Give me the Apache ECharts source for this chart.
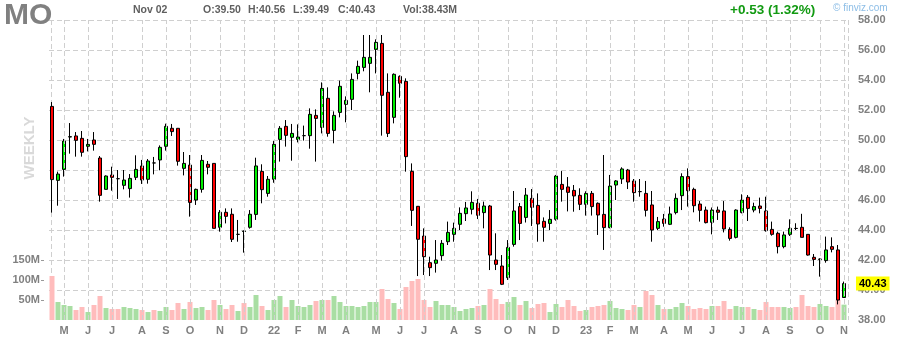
<!DOCTYPE html>
<html>
<head>
<meta charset="utf-8">
<script src="https://cdn.jsdelivr.net/npm/echarts@6/dist/echarts.min.js"></script>
<style>
html,body{margin:0;padding:0;background:#fff;}
#chart{width:898px;height:340px;}
</style>
</head>
<body>
<div id="chart"></div>
<script>
// Weekly bars (week start dates)
const dates = [
'2021-04-19','2021-04-26','2021-05-03','2021-05-10','2021-05-17','2021-05-24','2021-05-31','2021-06-07','2021-06-14','2021-06-21','2021-06-28','2021-07-05','2021-07-12','2021-07-19','2021-07-26','2021-08-02','2021-08-09','2021-08-16','2021-08-23','2021-08-30','2021-09-06','2021-09-13','2021-09-20','2021-09-27','2021-10-04','2021-10-11','2021-10-18','2021-10-25','2021-11-01','2021-11-08','2021-11-15','2021-11-22','2021-11-29','2021-12-06','2021-12-13','2021-12-20','2021-12-27',
'2022-01-03','2022-01-10','2022-01-17','2022-01-24','2022-01-31','2022-02-07','2022-02-14','2022-02-21','2022-02-28','2022-03-07','2022-03-14','2022-03-21','2022-03-28','2022-04-04','2022-04-11','2022-04-18','2022-04-25','2022-05-02','2022-05-09','2022-05-16','2022-05-23','2022-05-30','2022-06-06','2022-06-13','2022-06-20','2022-06-27','2022-07-04','2022-07-11','2022-07-18','2022-07-25','2022-08-01','2022-08-08','2022-08-15','2022-08-22','2022-08-29','2022-09-05','2022-09-12','2022-09-19','2022-09-26','2022-10-03','2022-10-10','2022-10-17','2022-10-24','2022-10-31','2022-11-07','2022-11-14','2022-11-21','2022-11-28','2022-12-05','2022-12-12','2022-12-19','2022-12-26',
'2023-01-02','2023-01-09','2023-01-16','2023-01-23','2023-01-30','2023-02-06','2023-02-13','2023-02-20','2023-02-27','2023-03-06','2023-03-13','2023-03-20','2023-03-27','2023-04-03','2023-04-10','2023-04-17','2023-04-24','2023-05-01','2023-05-08','2023-05-15','2023-05-22','2023-05-29','2023-06-05','2023-06-12','2023-06-19','2023-06-26','2023-07-03','2023-07-10','2023-07-17','2023-07-24','2023-07-31','2023-08-07','2023-08-14','2023-08-21','2023-08-28','2023-09-04','2023-09-11','2023-09-18','2023-09-25','2023-10-02','2023-10-09','2023-10-16','2023-10-23','2023-10-30'
];

const opens = [
52.24,47.31,48.04,50.20,50.27,50.11,49.58,50.00,48.80,46.71,47.67,47.42,46.98,46.76,47.51,48.27,47.38,48.47,48.67,49.58,
50.78,50.78,48.11,48.33,46.00,46.71,48.38,48.44,44.18,45.18,45.05,43.71,43.90,44.18,45.04,47.91,46.44,47.38,50.04,50.91,
50.18,50.04,50.29,50.29,51.64,50.84,52.78,50.64,51.84,52.38,52.71,54.44,54.84,55.11,56.04,56.44,53.18,51.51,54.24,53.91,
47.91,45.58,43.60,41.82,41.78,42.29,43.22,43.71,44.38,45.09,45.38,45.78,45.16,45.60,42.00,41.60,40.82,43.04,45.56,44.84,
46.11,45.64,44.58,44.44,44.71,47.04,46.87,46.64,46.31,45.71,46.44,45.78,45.04,44.16,47.00,47.40,48.00,47.27,46.56,46.44,
45.67,44.11,44.73,44.38,45.16,46.29,47.56,46.71,45.73,45.33,44.51,45.33,45.27,44.04,43.51,45.16,46.18,45.33,45.60,45.27,
44.04,43.78,42.89,43.71,44.11,44.18,43.71,42.18,42.04,41.96,42.89,42.67,39.50
];
const highs = [
52.53,47.89,50.07,51.13,50.53,50.60,50.07,50.53,48.93,47.64,48.22,48.00,48.00,47.73,48.98,48.67,48.73,48.87,49.64,51.09,
51.07,50.78,49.20,49.00,46.76,49.00,48.60,48.44,45.33,45.44,45.44,44.67,43.96,45.33,48.82,48.38,47.60,49.93,50.93,51.33,
51.07,51.04,50.96,52.11,52.04,53.84,53.51,51.91,53.96,52.91,54.44,55.29,57.00,57.00,56.71,57.00,54.44,54.44,54.31,54.11,
48.44,45.60,44.11,42.22,43.33,43.33,44.56,44.49,45.51,45.87,46.58,46.07,45.89,45.67,43.78,42.33,43.33,46.60,45.80,46.80,
46.73,46.44,44.84,45.33,47.67,47.93,47.53,47.00,46.78,46.58,46.60,45.84,49.00,47.67,47.33,48.18,48.07,47.40,47.40,47.27,
46.60,44.87,45.07,45.56,46.44,47.78,48.11,46.82,45.93,45.56,45.50,45.56,45.93,44.18,45.38,46.38,46.33,45.82,46.16,46.22,
44.56,43.89,43.89,44.71,44.45,45.08,43.71,42.40,42.11,43.56,43.51,43.00,40.56
];
const lows = [
45.16,45.62,47.56,49.09,48.89,48.89,49.24,49.29,45.89,46.71,46.62,46.07,46.71,46.16,47.33,47.07,47.09,47.71,47.98,49.29,
50.27,48.29,47.64,44.89,45.67,46.49,47.71,44.11,43.89,44.44,43.20,43.22,42.49,44.09,44.67,45.78,46.22,47.15,48.56,49.56,
48.62,49.84,49.96,49.42,48.56,50.44,50.22,49.78,51.51,51.18,52.00,54.04,54.58,53.18,54.44,50.29,50.20,51.11,52.82,47.89,
44.27,40.93,41.00,40.93,41.16,41.96,43.00,43.22,44.00,44.60,45.04,44.73,44.11,41.33,41.33,40.33,40.67,42.89,43.33,44.50,
44.27,43.22,43.22,44.00,44.62,45.89,45.24,45.22,45.33,44.96,44.96,43.67,42.67,44.11,46.00,47.07,46.73,45.89,46.22,44.90,
43.22,44.00,44.22,44.33,45.04,45.33,45.56,45.18,44.56,44.44,43.71,44.67,43.84,43.29,43.44,45.11,44.60,45.18,45.11,43.89,
43.62,42.44,42.78,43.60,44.00,43.51,42.29,41.60,40.89,41.82,42.51,39.04,39.49
];
const closes = [
47.36,47.73,49.93,50.22,49.98,49.18,49.71,49.71,46.31,47.60,47.51,47.42,47.33,47.44,48.04,47.33,48.60,48.47,49.51,50.91,
50.56,48.58,48.44,45.84,46.71,48.64,48.18,44.11,45.18,44.91,43.38,43.71,43.93,45.05,48.27,46.69,47.38,49.71,50.78,50.31,
50.44,50.20,50.29,51.71,51.44,53.44,50.44,51.64,53.58,52.64,54.04,54.91,55.51,55.51,56.51,52.98,50.44,54.38,53.78,48.89,
45.31,43.38,42.22,41.49,42.00,43.11,43.84,44.11,45.11,45.47,45.84,44.98,45.60,42.33,41.71,40.38,42.84,45.27,44.44,46.33,
45.51,44.40,44.18,44.71,47.60,46.71,46.51,46.27,45.71,46.44,45.56,45.00,44.16,46.93,47.27,48.07,47.20,46.49,46.56,45.31,
44.00,44.56,44.44,45.07,46.11,47.56,46.62,45.62,45.31,44.49,45.33,45.18,44.07,43.44,45.33,46.00,45.44,45.56,45.44,43.96,
43.71,42.89,43.67,44.11,44.10,43.51,42.33,42.04,42.06,42.67,42.71,39.33,40.43
];
// weekly volume, millions
const volumes = [
110,45,37.5,35,25,32.5,20,37.5,60,30,27.5,27.5,32.5,30,27.5,25,20,25,22.5,32.5,
25,42.5,27.5,45,30,32.5,25,50,37.5,27.5,37.5,22.5,42.5,32.5,62.5,35,25,50,60,32.5,
50,35,32.5,37.5,47.5,50,50,60,45,35,35,32.5,35,45,45,77.5,52.5,42.5,27.5,82.5,
97.5,102.5,50,32.5,47.5,37.5,37.5,32.5,22.5,27.5,30,35,37.5,77.5,52.5,40,45,57.5,37.5,47.5,
30,40,42.5,20,40,32.5,50,35,22.5,25,32.5,35,37.5,47.5,30,27.5,25,37.5,32.5,72.5,
62.5,37.5,27.5,27.5,32.5,42.5,35,27.5,30,27.5,35,35,47.5,27.5,35,32.5,32.5,27.5,25,45,
32.5,32.5,32.5,30,32.5,62.5,35,32.5,40,35,32.5,50,38.43
];
// 1 = up week volume bar (green), 0 = down (pink)
const volumeUp = [
0,1,1,1,0,0,1,0,0,1,0,0,1,1,1,0,1,0,1,1,
0,0,1,0,1,1,0,0,1,0,0,1,0,1,1,0,1,1,1,0,
1,1,1,1,0,1,0,1,1,1,1,1,1,1,1,0,0,1,0,0,
0,0,0,0,1,1,1,1,1,1,1,0,1,0,0,0,1,1,0,1,
0,0,0,1,1,0,0,0,0,1,0,0,0,1,1,1,0,0,1,0,
0,1,0,1,1,1,0,0,0,0,1,0,0,0,1,1,0,1,0,0,
0,0,1,1,0,0,0,0,1,1,0,0,1
];

const monthTickDates = ['2021-05-03','2021-05-31','2021-06-28','2021-08-02','2021-08-30','2021-09-27','2021-11-01','2021-11-29','2022-01-03','2022-01-31','2022-02-28','2022-03-28','2022-05-02','2022-05-30','2022-06-27','2022-08-01','2022-08-29','2022-10-03','2022-10-31','2022-11-28','2023-01-02','2023-01-30','2023-02-27','2023-04-03','2023-05-01','2023-05-29','2023-07-03','2023-07-31','2023-08-28','2023-10-02','2023-10-30'];
const monthTickLabels = ['M','J','J','A','S','O','N','D','22','F','M','A','M','J','J','A','S','O','N','D','23','F','M','A','M','J','J','A','S','O','N'];

const priceTicks = {min: 38, max: 58, step: 2};
const volumeTicks = [50, 100, 150];

const header = {
  ticker: 'MO', date: 'Nov 02',
  ohlc: ['O:39.50', 'H:40.56', 'L:39.49', 'C:40.43'],
  vol: 'Vol:38.43M', change: '+0.53 (1.32%)', credit: '\u00a9 finviz.com', period: 'WEEKLY'
};

const FONT = '"Liberation Sans", Arial, Helvetica, sans-serif';
const labelMap = {};
monthTickDates.forEach((d, i) => { labelMap[d] = monthTickLabels[i]; });

const candleData = dates.map((d, i) => [opens[i], closes[i], lows[i], highs[i]]);
const volData = volumes.map((v, i) => ({
  value: v,
  itemStyle: { color: volumeUp[i] ? '#a9dea3' : '#ffbcbc' }
}));
const lastClose = closes[closes.length - 1];

const chart = echarts.init(document.getElementById('chart'), null, {renderer: 'canvas'});
chart.setOption({
  animation: false,
  backgroundColor: '#ffffff',
  grid: [
    {left: 49, top: 20, width: 798, height: 300},
    {left: 49, top: 260, width: 798, height: 60},
    {left: 51, top: 20, width: 797, height: 300}
  ],
  xAxis: [
    {
      type: 'category', gridIndex: 0, data: dates, boundaryGap: true,
      axisLine: {show: false}, axisTick: {show: false}, splitLine: {show: false},
      axisLabel: {
        interval: (idx, val) => labelMap[val] !== undefined,
        formatter: (val) => labelMap[val] || '',
        color: '#808080', fontFamily: FONT, fontWeight: 'bold', fontSize: 11, margin: 5
      }
    },
    {
      type: 'category', gridIndex: 1, data: dates, boundaryGap: true,
      axisLine: {show: false}, axisTick: {show: false}, axisLabel: {show: false}, splitLine: {show: false}
    },
    {
      type: 'value', gridIndex: 2, min: 0, max: 1, interval: 1,
      axisLine: {show: false}, axisTick: {show: false}, axisLabel: {show: false},
      splitLine: {show: true, lineStyle: {color: '#cfcfcf', type: [5, 3], width: 1}}
    }
  ],
  yAxis: [
    {
      type: 'value', gridIndex: 0, position: 'right',
      min: priceTicks.min, max: priceTicks.max, interval: priceTicks.step,
      axisLine: {show: false}, axisTick: {show: false},
      axisLabel: {
        formatter: (v) => v.toFixed(2), color: '#808080', fontFamily: FONT,
        fontWeight: 'bold', fontSize: 11, margin: 11
      },
      splitLine: {show: true, showMinLine: false, lineStyle: {color: '#cfcfcf', type: [5, 3], width: 1}}
    },
    {
      type: 'value', gridIndex: 1, position: 'left', offset: 5,
      min: 0, max: volumeTicks[volumeTicks.length - 1], interval: volumeTicks[0],
      axisLine: {show: false},
      axisTick: {show: true, length: 3, lineStyle: {color: '#999'}, customValues: volumeTicks},
      axisLabel: {
        customValues: volumeTicks,
        formatter: (v) => v ? v + 'M' : '', color: '#808080', fontFamily: FONT,
        fontWeight: 'bold', fontSize: 11, margin: 4
      },
      splitLine: {show: false}
    },
    {
      type: 'value', gridIndex: 2, show: false, min: 0, max: 1
    }
  ],
  series: [
    {
      name: 'grid', type: 'line', xAxisIndex: 0, yAxisIndex: 0, data: [], z: 1, silent: true,
      markLine: {
        silent: true, symbol: ['none', 'none'], animation: false,
        label: {show: false},
        lineStyle: {color: '#cfcfcf', type: [5, 3], width: 1},
        data: monthTickDates.map((d) => ({xAxis: d}))
      }
    },
    {
      name: 'Volume', type: 'bar', xAxisIndex: 1, yAxisIndex: 1,
      data: volData, barWidth: 5, z: 2, silent: true
    },
    {
      name: 'MO', type: 'candlestick', xAxisIndex: 0, yAxisIndex: 0,
      data: candleData, barWidth: 4, z: 3, clip: false,
      itemStyle: {
        color: '#00ee00', color0: '#ff0000',
        borderColor: '#000000', borderColor0: '#000000', borderColorDoji: '#000000',
        borderWidth: 1
      }
    },
    {
      name: 'last', type: 'line', xAxisIndex: 0, yAxisIndex: 0, data: [], z: 6, silent: true, clip: false,
      markLine: {
        silent: true, symbol: ['none', 'none'], animation: false,
        lineStyle: {color: 'rgba(0,0,0,0)', width: 1, type: 'solid'},
        label: {
          show: true, position: 'end', distance: 9,
          formatter: () => lastClose.toFixed(2),
          backgroundColor: '#ffff00', color: '#000000',
          fontFamily: FONT, fontWeight: 'bold', fontSize: 11, padding: [2, 3, 1, 3]
        },
        data: [{yAxis: lastClose}]
      }
    }
  ],
  graphic: [
    {type: 'text', x: 4, y: 16, style: {text: header.ticker, font: 'bold 30px ' + FONT, fill: '#808080', textVerticalAlign: 'middle'}},
    {type: 'text', x: 133, y: 10, style: {text: header.date, font: 'bold 10.5px ' + FONT, fill: '#5f5f5f', textVerticalAlign: 'middle'}},
    {type: 'text', x: 203, y: 10, style: {text: header.ohlc[0], font: 'bold 10.5px ' + FONT, fill: '#5f5f5f', textVerticalAlign: 'middle'}},
    {type: 'text', x: 248, y: 10, style: {text: header.ohlc[1], font: 'bold 10.5px ' + FONT, fill: '#5f5f5f', textVerticalAlign: 'middle'}},
    {type: 'text', x: 293, y: 10, style: {text: header.ohlc[2], font: 'bold 10.5px ' + FONT, fill: '#5f5f5f', textVerticalAlign: 'middle'}},
    {type: 'text', x: 338, y: 10, style: {text: header.ohlc[3], font: 'bold 10.5px ' + FONT, fill: '#5f5f5f', textVerticalAlign: 'middle'}},
    {type: 'text', x: 403, y: 10, style: {text: header.vol, font: 'bold 10.5px ' + FONT, fill: '#5f5f5f', textVerticalAlign: 'middle'}},
    {type: 'text', x: 730, y: 10, style: {text: header.change, font: 'bold 13.5px ' + FONT, fill: '#129a12', textVerticalAlign: 'middle'}},
    {type: 'text', x: 833, y: 8, style: {text: header.credit, font: '10px ' + FONT, fill: '#8cbde6', textVerticalAlign: 'middle'}},
    {type: 'text', x: 30, y: 148, rotation: Math.PI / 2, style: {text: header.period, font: 'bold 15px ' + FONT, fill: '#d9d9d9', textAlign: 'center', textVerticalAlign: 'middle'}}
  ]
});
</script>
</body>
</html>
